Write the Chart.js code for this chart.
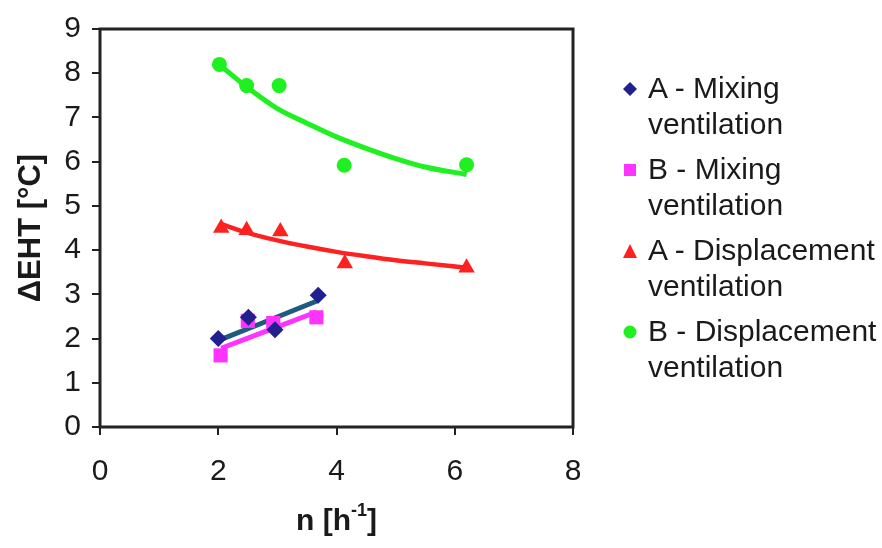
<!DOCTYPE html>
<html>
<head>
<meta charset="utf-8">
<script src="https://cdn.jsdelivr.net/npm/chart.js@4.4.1/dist/chart.umd.min.js"></script>
<style>
  html, body { margin: 0; padding: 0; background: #ffffff; }
  #wrap { position: relative; width: 882px; height: 548px; overflow: hidden; font-family: "Liberation Sans", Arial, sans-serif; color: #1a1a1a; }
  #c { position: absolute; left: 0; top: 0; }
  #xtitle { position: absolute; left: 100px; width: 473px; top: 502px; text-align: center; font-weight: bold; font-size: 30px; line-height: 36px; }
  #xtitle sup { font-size: 18px; position: relative; top: -3px; line-height: 0; vertical-align: super; }
  #legend { position: absolute; left: 618px; top: 70px; font-size: 30px; line-height: 36px; }
  .item { position: relative; padding-left: 30px; margin-bottom: 9px; }
  .item svg { position: absolute; left: 4px; top: 11px; }
</style>
</head>
<body>
<div id="wrap">
  <canvas id="c" width="882" height="548"></canvas>
  <div id="xtitle">n [h<sup>-1</sup>]</div>
  <div id="legend"></div>
</div>
<script>
// ---- data ----
const seriesNames = ["A - Mixing ventilation", "B - Mixing ventilation", "A - Displacement ventilation", "B - Displacement ventilation"];

const xAMix = [2.00, 2.51, 2.96, 3.69];
const yAMix = [2.00, 2.48, 2.20, 2.98];

const xBMix = [2.04, 2.50, 2.93, 3.66];
const yBMix = [1.62, 2.40, 2.35, 2.48];

const xADisp = [2.05, 2.48, 3.05, 4.14, 6.20];
const yADisp = [4.50, 4.45, 4.42, 3.70, 3.60];

const xBDisp = [2.02, 2.48, 3.03, 4.13, 6.20];
const yBDisp = [8.20, 7.72, 7.72, 5.92, 5.93];

// trendlines
const xTrendAMix = [2.05, 3.69];
const yTrendAMix = [1.98, 2.86];
const xTrendBMix = [2.05, 3.66];
const yTrendBMix = [1.78, 2.60];
const xTrendDisp = [2.03, 2.5, 3.0, 3.5, 4.0, 4.5, 5.0, 5.5, 6.2];
const yTrendADisp = [4.60, 4.39, 4.22, 4.08, 3.96, 3.86, 3.77, 3.70, 3.60];
const yTrendBDisp = [8.18, 7.67, 7.20, 6.87, 6.56, 6.30, 6.07, 5.88, 5.71];

const xTicks = [0, 2, 4, 6, 8];
const yTicks = [0, 1, 2, 3, 4, 5, 6, 7, 8, 9];

const colNavy = "#20208f";
const colBlueLine = "#1f5a7f";
const colPink = "#ff33ff";
const colRed = "#ff2020";
const colGreen = "#1ff01f";

function pts(xs, ys) { return xs.map((x, i) => ({ x: x, y: ys[i] })); }

const frame = {
  id: "frame",
  afterDatasetsDraw(chart) {
    const a = chart.chartArea, ctx = chart.ctx;
    ctx.save();
    ctx.strokeStyle = "#222222";
    ctx.lineWidth = 3;
    ctx.strokeRect(a.left, a.top, a.right - a.left, a.bottom - a.top);
    ctx.restore();
  }
};

const trendStyle = (c, w) => ({ type: "line", showLine: true, borderColor: c, borderWidth: w, pointRadius: 0, fill: false, tension: 0.4, cubicInterpolationMode: "monotone" });
const tickFont = { family: "'Liberation Sans', Arial, sans-serif", size: 30 };

new Chart(document.getElementById("c"), {
  type: "scatter",
  data: {
    datasets: [
      Object.assign({ label: "trend A mix", data: pts(xTrendAMix, yTrendAMix), order: 2 }, trendStyle(colBlueLine, 5)),
      Object.assign({ label: "trend B mix", data: pts(xTrendBMix, yTrendBMix), order: 2 }, trendStyle(colPink, 5)),
      Object.assign({ label: "trend A disp", data: pts(xTrendDisp, yTrendADisp), order: 2 }, trendStyle(colRed, 4.5)),
      Object.assign({ label: "trend B disp", data: pts(xTrendDisp, yTrendBDisp), order: 2 }, trendStyle(colGreen, 5)),
      { label: seriesNames[0], data: pts(xAMix, yAMix), pointStyle: "rectRot", pointRadius: 8.5, backgroundColor: colNavy, borderColor: colNavy, borderWidth: 0, order: 1 },
      { label: seriesNames[1], data: pts(xBMix, yBMix), pointStyle: "rect", pointRadius: 10, backgroundColor: colPink, borderColor: colPink, borderWidth: 0, order: 1 },
      { label: seriesNames[2], data: pts(xADisp, yADisp), pointStyle: "triangle", pointRadius: 9.5, backgroundColor: colRed, borderColor: colRed, borderWidth: 0, order: 1 },
      { label: seriesNames[3], data: pts(xBDisp, yBDisp), pointStyle: "circle", pointRadius: 7.5, backgroundColor: colGreen, borderColor: colGreen, borderWidth: 0, order: 1 }
    ]
  },
  options: {
    responsive: false,
    animation: false,
    layout: { padding: { top: 27, right: 309, left: 0, bottom: 0 } },
    plugins: { legend: { display: false }, tooltip: { enabled: false } },
    scales: {
      x: {
        type: "linear", min: 0, max: 8,
        afterBuildTicks: (s) => { s.ticks = xTicks.map(v => ({ value: v })); },
        afterFit: (s) => { s.height = 121; },
        ticks: { color: "#1a1a1a", font: tickFont, padding: 19, maxRotation: 0 },
        grid: { display: true, drawOnChartArea: false, drawTicks: true, tickLength: 8, color: "#222222", lineWidth: 2 },
        border: { display: false }
      },
      y: {
        type: "linear", min: 0, max: 9,
        afterBuildTicks: (s) => { s.ticks = yTicks.map(v => ({ value: v })); },
        afterFit: (s) => { s.width = 100; },
        ticks: { color: "#1a1a1a", font: tickFont, padding: 11 },
        grid: { display: true, drawOnChartArea: false, drawTicks: true, tickLength: 8, color: "#222222", lineWidth: 2 },
        border: { display: false },
        title: { display: true, text: "ΔEHT [°C]", color: "#1a1a1a", font: { family: "'Liberation Sans', Arial, sans-serif", size: 31, weight: "bold" }, padding: { top: 13, bottom: 0 } }
      }
    }
  },
  plugins: [frame]
});

// ---- HTML legend (multi-line labels) ----
const markers = [
  '<svg width="16" height="16" viewBox="0 0 16 16"><polygon points="8,1 15,8 8,15 1,8" fill="' + colNavy + '"/></svg>',
  '<svg width="16" height="16" viewBox="0 0 16 16"><rect x="2" y="2" width="12" height="12" fill="' + colPink + '"/></svg>',
  '<svg width="16" height="16" viewBox="0 0 16 16"><polygon points="8,1 15,15 1,15" fill="' + colRed + '"/></svg>',
  '<svg width="16" height="16" viewBox="0 0 16 16"><circle cx="8" cy="8" r="6.5" fill="' + colGreen + '"/></svg>'
];
const legendEl = document.getElementById("legend");
seriesNames.forEach((name, i) => {
  const parts = name.split(" ventilation");
  const d = document.createElement("div");
  d.className = "item";
  d.innerHTML = markers[i] + '<div>' + parts[0] + '</div><div>ventilation</div>';
  legendEl.appendChild(d);
});
</script>
</body>
</html>
